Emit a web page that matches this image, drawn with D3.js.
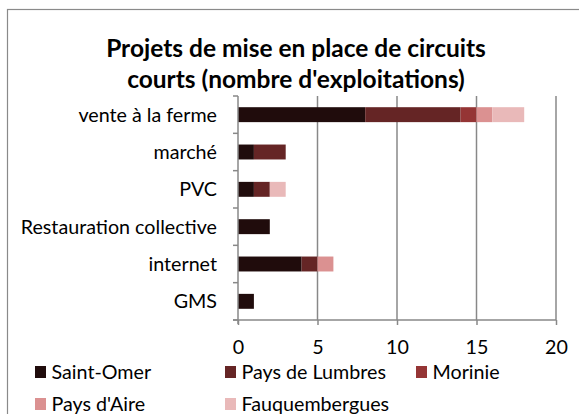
<!DOCTYPE html>
<html>
<head>
<meta charset="utf-8">
<script src="https://cdn.jsdelivr.net/npm/d3@7"></script>
<style>
  html, body { margin: 0; padding: 0; background: #fff; }
  svg { display: block; font-family: Lato, "Open Sans", sans-serif; }
</style>
</head>
<body>
<svg id="chart" width="579" height="414"></svg>
<script>
// Types of short-supply-chain projects (top to bottom)
const categories = ["vente à la ferme", "marché", "PVC", "Restauration collective", "internet", "GMS"];
// Territories, in stacking order
const seriesNames = ["Saint-Omer", "Pays de Lumbres", "Morinie", "Pays d'Aire", "Fauquembergues"];
// Number of farms per territory, one entry per category
const saintOmer      = [8, 1, 1, 2, 4, 1];
const paysDeLumbres  = [6, 2, 1, 0, 1, 0];
const morinie        = [1, 0, 0, 0, 0, 0];
const paysDAire      = [1, 0, 0, 0, 1, 0];
const fauquembergues = [2, 0, 1, 0, 0, 0];
const xTicks = [0, 5, 10, 15, 20];
const seriesColors = ["#200c0c", "#652525", "#953535", "#db9191", "#e9b9b9"];

const seriesValues = [saintOmer, paysDeLumbres, morinie, paysDAire, fauquembergues];
const rows = categories.map((c, i) => {
  const r = { category: c };
  seriesNames.forEach((s, j) => { r[s] = seriesValues[j][i]; });
  return r;
});

const svg = d3.select("#chart");
const labelSize = 19.7;

// outer chart frame (runs past the right and bottom edges)
svg.append("rect")
  .attr("x", 7.5).attr("y", 9.5)
  .attr("width", 700).attr("height", 600)
  .attr("fill", "none").attr("stroke", "#8a8a8a").attr("stroke-width", 1.2);

// title
const title = svg.append("text")
  .attr("text-anchor", "middle")
  .attr("font-weight", "bold")
  .attr("font-size", 24.5)
  .attr("fill", "#000");
title.append("tspan").attr("x", 296).attr("y", 57).text("Projets de mise en place de circuits");
title.append("tspan").attr("x", 296).attr("y", 88).text("courts (nombre d'exploitations)");

const plot = { left: 238, right: 556, top: 96, bottom: 320 };

const x = d3.scaleLinear().domain([0, 20]).range([plot.left, plot.right]);
const y = d3.scaleBand().domain(categories).range([plot.top, plot.bottom]).paddingInner(0.6).paddingOuter(0.3);

// vertical gridlines
svg.append("g").selectAll("line")
  .data(xTicks.filter(t => t > 0))
  .join("line")
  .attr("x1", d => x(d)).attr("x2", d => x(d))
  .attr("y1", plot.top).attr("y2", plot.bottom)
  .attr("stroke", "#888").attr("stroke-width", 1.5);

// stacked bars
const stack = d3.stack().keys(seriesNames)(rows);
svg.append("g").selectAll("g")
  .data(stack)
  .join("g")
  .attr("fill", (d, i) => seriesColors[i])
  .selectAll("rect")
  .data(d => d.filter(p => p[1] - p[0] > 0))
  .join("rect")
  .attr("x", d => x(d[0]))
  .attr("width", d => x(d[1]) - x(d[0]))
  .attr("y", d => y(d.data.category))
  .attr("height", y.bandwidth());

// category axis: line plus boundary ticks
const yAxis = svg.append("g");
yAxis.append("line")
  .attr("x1", plot.left).attr("x2", plot.left)
  .attr("y1", plot.top).attr("y2", plot.bottom + 4)
  .attr("stroke", "#888").attr("stroke-width", 1.5);
const step = y.step();
yAxis.selectAll("line.tick")
  .data(d3.range(categories.length + 1))
  .join("line")
  .attr("class", "tick")
  .attr("x1", plot.left - 5).attr("x2", plot.left)
  .attr("y1", i => plot.top + i * step).attr("y2", i => plot.top + i * step)
  .attr("stroke", "#888").attr("stroke-width", 1.5);
yAxis.selectAll("text")
  .data(categories)
  .join("text")
  .attr("x", 217)
  .attr("y", d => y(d) + y.bandwidth() / 2)
  .attr("dy", "0.35em")
  .attr("text-anchor", "end")
  .attr("font-size", labelSize)
  .attr("fill", "#000")
  .text(d => d);

// value axis
const xAxis = svg.append("g").attr("transform", `translate(0,${plot.bottom})`)
  .call(d3.axisBottom(x).tickValues(xTicks).tickSize(5).tickPadding(8).tickFormat(d3.format("d")));
xAxis.select(".domain").remove();
xAxis.append("line")
  .attr("x1", plot.left - 5).attr("x2", plot.right)
  .attr("stroke", "#888").attr("stroke-width", 1.5);
xAxis.selectAll(".tick line").attr("stroke", "#888").attr("stroke-width", 1.5);
xAxis.selectAll(".tick text")
  .attr("y", 27).attr("dy", "0.35em")
  .attr("font-size", labelSize)
  .attr("font-family", "Lato, \"Open Sans\", sans-serif")
  .attr("fill", "#000");

// legend
const legendPos = [[35, 372], [225, 372], [416, 372], [35, 404], [225, 404]];
const legend = svg.append("g").selectAll("g")
  .data(seriesNames)
  .join("g")
  .attr("transform", (d, i) => `translate(${legendPos[i][0]},${legendPos[i][1]})`);
legend.append("rect")
  .attr("x", 0).attr("y", -6).attr("width", 11).attr("height", 12)
  .attr("fill", (d, i) => seriesColors[i]);
legend.append("text")
  .attr("x", 16.5).attr("y", 0).attr("dy", "0.35em")
  .attr("font-size", labelSize).attr("fill", "#000")
  .text(d => d);
</script>
</body>
</html>
